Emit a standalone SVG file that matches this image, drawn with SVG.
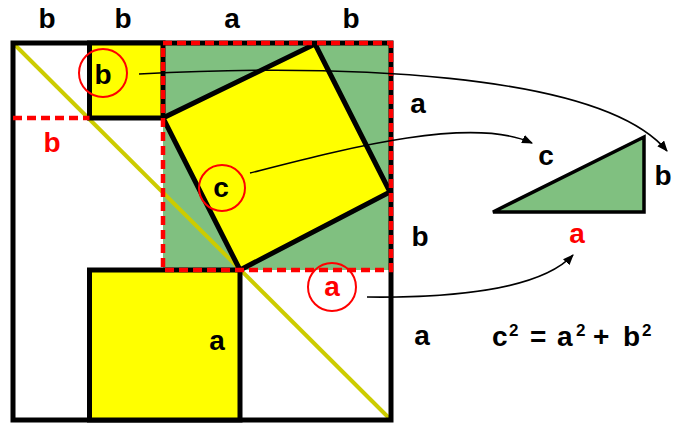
<svg xmlns="http://www.w3.org/2000/svg" width="675" height="425" viewBox="0 0 675 425">
<defs>
<style>
text{font-family:"Liberation Sans",Arial,sans-serif;font-weight:bold;font-size:28px;text-anchor:middle;fill:#000}
.red{fill:#ff0000}
.blk{stroke:#000;stroke-width:5;stroke-linejoin:miter}
.yel{fill:#ffff00}
.grn{fill:#80c080}
.dash{fill:none;stroke:#ff0000;stroke-width:4.5;stroke-dasharray:9 5}
.ring{fill:none;stroke:#ff0000;stroke-width:2}
.conn{fill:none;stroke:#000;stroke-width:1.6;marker-end:url(#arr)}
.sup{font-size:17px}
</style>
<marker id="arr" viewBox="0 0 10 8" refX="9" refY="4" markerWidth="11" markerHeight="9" markerUnits="userSpaceOnUse" orient="auto">
<path d="M0,0 L10,4 L0,8 z" fill="#000"/>
</marker>
</defs>
<rect width="675" height="425" fill="#fff"/>

<g id="big-square">
<rect x="163" y="43" width="228" height="227" class="grn"/>
<line x1="13" y1="43" x2="391" y2="420" stroke="#cccc00" stroke-width="4"/>
<rect x="13" y="43" width="378" height="377" fill="none" class="blk"/>
</g>

<g id="square-b">
<rect x="89.5" y="43" width="73.5" height="75" class="yel blk"/>
<line x1="13" y1="118" x2="89.5" y2="118" class="dash"/>
</g>

<g id="square-a">
<rect x="89.5" y="270" width="150.5" height="150" class="yel blk"/>
</g>

<g id="square-c">
<polygon points="315,44 390,192 240,270 163,118" class="yel blk"/>
</g>

<g id="green-frame">
<rect x="163" y="43" width="228" height="227" class="dash"/>
</g>

<g id="triangle">
<polygon points="493,212 644,137 644,212" class="grn" stroke="#000" stroke-width="3.5" stroke-linejoin="miter"/>
</g>

<g id="rings">
<circle cx="103" cy="73" r="24" class="ring"/>
<circle cx="222" cy="188" r="23" class="ring"/>
<circle cx="332" cy="287" r="24" class="ring"/>
</g>

<g id="connectors">
<path d="M139,74 C330,64 600,70 667,151" class="conn"/>
<path d="M250,173 C340,150 470,115 532,143" class="conn"/>
<path d="M367,297 C450,298 540,290 573,255" class="conn"/>
</g>

<g id="labels">
<text x="47" y="28">b</text>
<text x="123" y="28">b</text>
<text x="232" y="28">a</text>
<text x="351" y="28">b</text>
<text x="52" y="152" class="red">b</text>
<text x="103" y="84">b</text>
<text x="221" y="197">c</text>
<text x="418" y="113">a</text>
<text x="420" y="246">b</text>
<text x="422" y="345">a</text>
<text x="546" y="165">c</text>
<text x="663" y="185">b</text>
<text x="577" y="243" class="red">a</text>
<text x="332" y="296" class="red">a</text>
<text x="217" y="350">a</text>
<text x="492" y="346" style="text-anchor:start">c<tspan class="sup" x="509" dy="-10">2</tspan><tspan x="530" dy="10">=</tspan><tspan x="557">a</tspan><tspan class="sup" x="576" dy="-10">2</tspan><tspan x="593" dy="10">+</tspan><tspan x="623">b</tspan><tspan class="sup" x="642" dy="-10">2</tspan></text>
</g>
</svg>
